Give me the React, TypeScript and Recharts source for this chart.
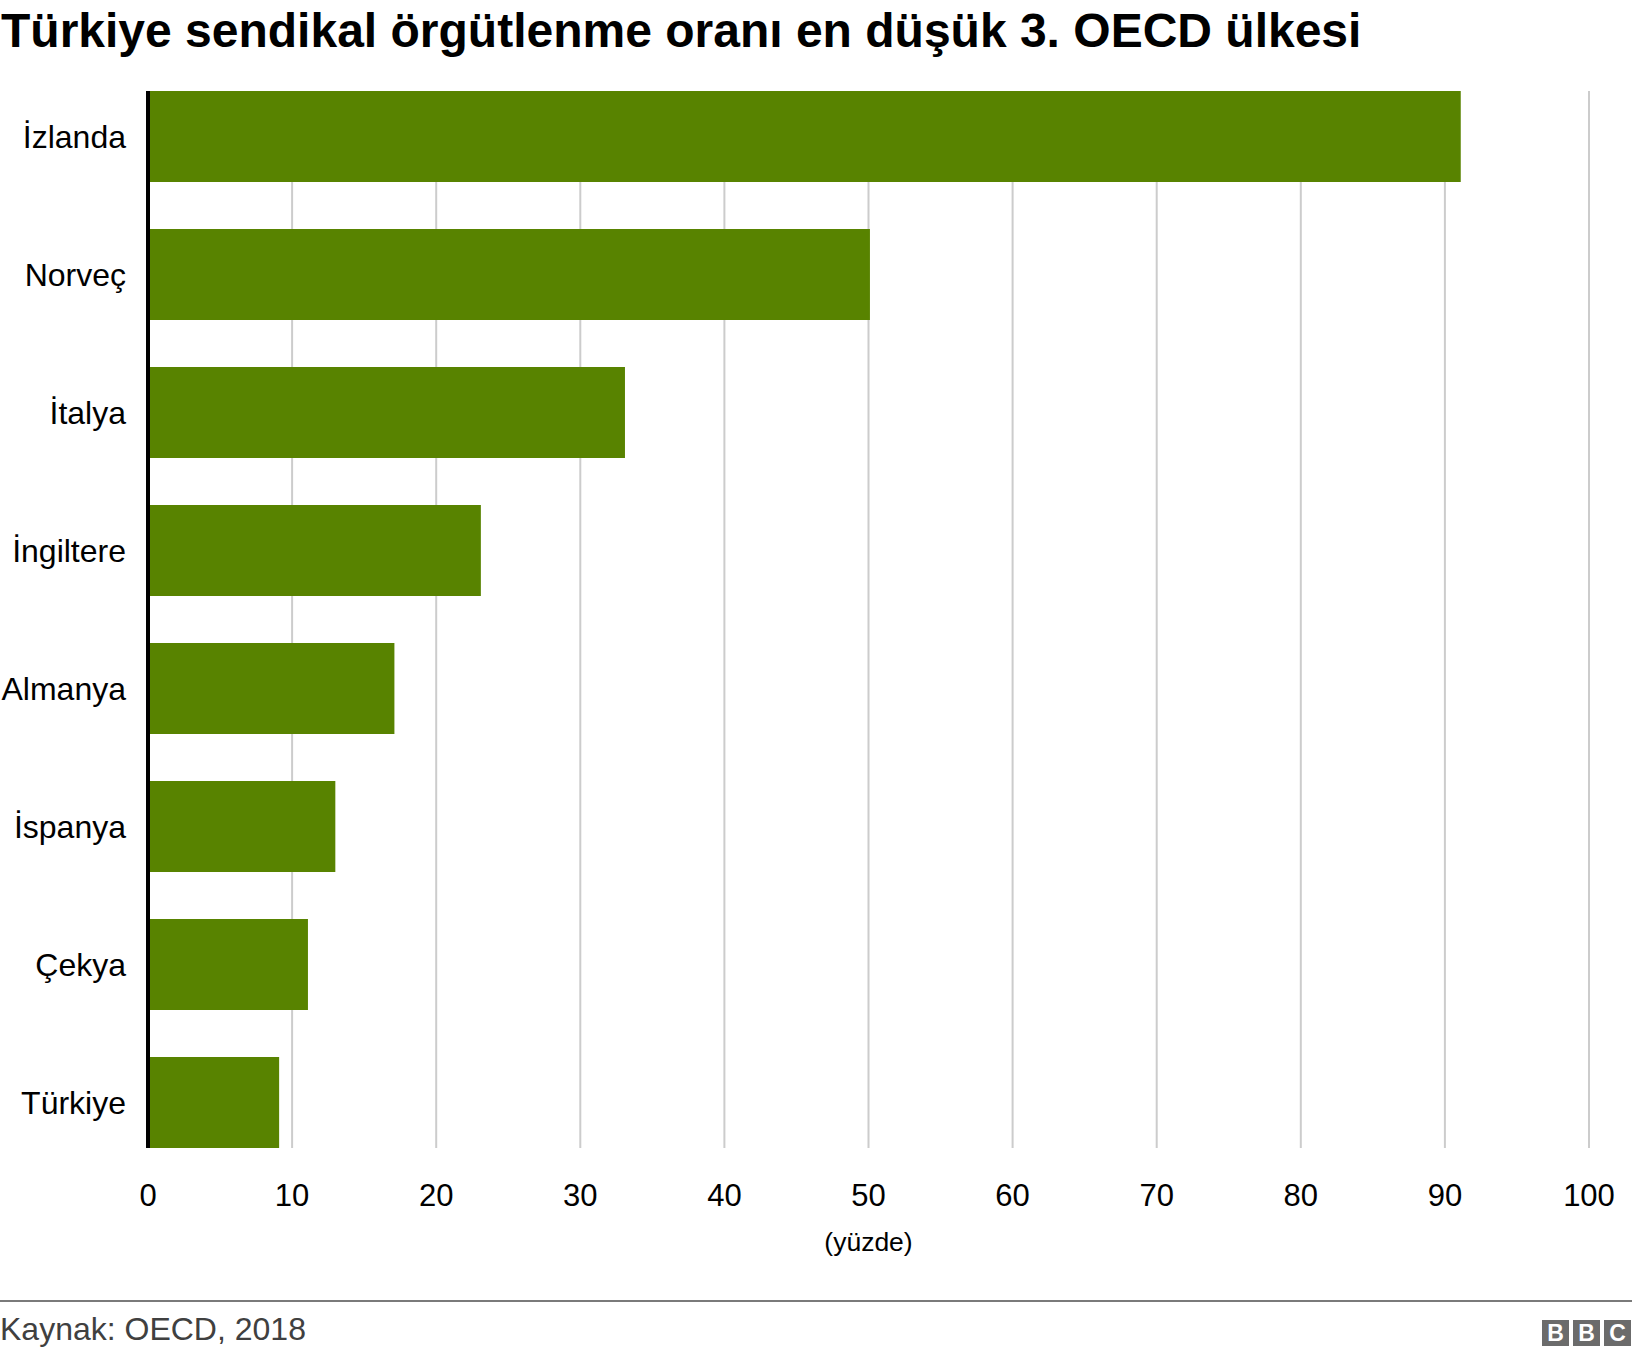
import React from "react";
import {
  BarChart,
  Bar,
  XAxis,
  YAxis,
  CartesianGrid,
  Label,
} from "recharts";

const COUNTRIES = [
  "İzlanda",
  "Norveç",
  "İtalya",
  "İngiltere",
  "Almanya",
  "İspanya",
  "Çekya",
  "Türkiye",
];
const RATES = [91.1, 50.1, 33.1, 23.1, 17.1, 13.0, 11.1, 9.1];
const X_TICKS = [0, 10, 20, 30, 40, 50, 60, 70, 80, 90, 100];

const FONT = "'Liberation Sans', Arial, Helvetica, sans-serif";
const GREEN = "#588300";

const data = COUNTRIES.map((country, i) => ({ country, rate: RATES[i] }));

function BbcLogo() {
  const box: React.CSSProperties = {
    width: 27,
    height: 26,
    background: "#6b6b6b",
    color: "#fff",
    fontWeight: 700,
    fontSize: 23,
    lineHeight: "26px",
    textAlign: "center",
    fontFamily: FONT,
  };
  return (
    <div
      style={{
        position: "absolute",
        left: 1542,
        top: 1320,
        display: "flex",
        gap: 4,
      }}
    >
      <div style={box}>B</div>
      <div style={box}>B</div>
      <div style={box}>C</div>
    </div>
  );
}

export default function App() {
  return (
    <div
      style={{
        position: "relative",
        width: 1632,
        height: 1356,
        background: "#fff",
        fontFamily: FONT,
        overflow: "hidden",
      }}
    >
      <style>{"body{margin:0}"}</style>
      <div
        style={{
          position: "absolute",
          left: 1,
          top: 7,
          fontSize: 48,
          lineHeight: "48px",
          fontWeight: 700,
          color: "#000",
          whiteSpace: "nowrap",
        }}
      >
        Türkiye sendikal örgütlenme oranı en düşük 3. OECD ülkesi
      </div>

      <div style={{ position: "absolute", left: 0, top: 0 }}>
        <BarChart
          width={1632}
          height={1280}
          data={data}
          layout="vertical"
          margin={{ top: 91, right: 43, bottom: 32, left: 0 }}
          barCategoryGap={23.5}
        >
          <CartesianGrid
            horizontal={false}
            stroke="#cccccc"
            strokeWidth={2}
          />
          <XAxis
            type="number"
            domain={[0, 100]}
            ticks={X_TICKS}
            interval={0}
            axisLine={false}
            tickLine={false}
            tickSize={0}
            tickMargin={36}
            height={100}
            tick={{ fontSize: 31, fill: "#000", fontFamily: FONT }}
          >
            <Label
              value="(yüzde)"
              position="insideBottom"
              offset={-3}
              style={{ fontSize: 26.5, fill: "#000", fontFamily: FONT }}
            />
          </XAxis>
          <YAxis
            type="category"
            dataKey="country"
            width={148}
            axisLine={{ stroke: "#000", strokeWidth: 4 }}
            tickLine={false}
            tickSize={0}
            tickMargin={22}
            padding={{ top: -23.5, bottom: -23.5 }}
            tick={{ fontSize: 32, fill: "#000", fontFamily: FONT }}
          />
          <Bar dataKey="rate" fill={GREEN} isAnimationActive={false} />
        </BarChart>
      </div>

      <div
        style={{
          position: "absolute",
          left: 0,
          top: 1300,
          width: 1632,
          height: 2,
          background: "#7a7a7a",
        }}
      />
      <div
        style={{
          position: "absolute",
          left: 0,
          top: 1311,
          fontSize: 32,
          lineHeight: "36px",
          color: "#404040",
          whiteSpace: "nowrap",
        }}
      >
        Kaynak: OECD, 2018
      </div>
      <BbcLogo />
    </div>
  );
}
